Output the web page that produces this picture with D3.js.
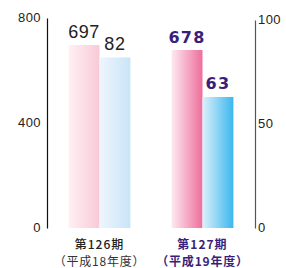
<!DOCTYPE html>
<html><head><meta charset="utf-8">
<script src="https://cdn.jsdelivr.net/npm/d3@7"></script>
<style>body{margin:0;background:#fff}svg{display:block}</style>
</head><body>
<script>
const categories = ["第126期", "第127期"];
const subLabels = ["（平成18年度）", "（平成19年度）"];
const leftValues = [697, 678];   // left axis (pink)
const rightValues = [82, 63];    // right axis (blue)
const leftTicks = [0, 400, 800];
const rightTicks = [0, 50, 100];

const W = 286, H = 268;
const svg = d3.select("body").append("svg").attr("width", W).attr("height", H);
const defs = svg.append("defs");
function grad(id, c0, c1) {
  const g = defs.append("linearGradient").attr("id", id).attr("x1", "0").attr("x2", "1").attr("y1", "0").attr("y2", "0");
  g.append("stop").attr("offset", "0").attr("stop-color", c0);
  g.append("stop").attr("offset", "1").attr("stop-color", c1);
}
grad("p0", "#fff0f4", "#f9c9d7");
grad("b0", "#eef6fd", "#c9e4f8");
grad("p1", "#fde9f0", "#ee6e9b");
grad("b1", "#dcf0fb", "#3bb7ed");

const x = d3.scaleBand().domain(categories).range([48, 254]).paddingInner(0.4).paddingOuter(0.2);
const xs = d3.scaleBand().domain([0, 1]).range([0, x.bandwidth()]);
const yL = d3.scaleLinear().domain([0, 800]).range([228, 18]);
const yR = d3.scaleLinear().domain([0, 100]).range([228, 20]);

const tickFont = t => t.attr("font-family", "Liberation Sans, Arial, sans-serif").attr("font-size", 13)
  .attr("letter-spacing", 0.4).attr("fill", "#222").attr("dy", "0.3em");

const axL = svg.append("g").attr("transform", "translate(47,0)")
  .call(d3.axisLeft(yL).tickValues(leftTicks).tickSize(0).tickPadding(6));
axL.select(".domain").attr("stroke", "#111").attr("stroke-width", 1.2);
axL.selectAll("text").call(tickFont);

const axR = svg.append("g").attr("transform", "translate(255,0)")
  .call(d3.axisRight(yR).tickValues(rightTicks).tickSize(0).tickPadding(3));
axR.select(".domain").attr("stroke", "#555").attr("stroke-width", 1.2);
axR.selectAll("text").call(tickFont);

categories.forEach((c, i) => {
  const g = svg.append("g").attr("transform", `translate(${x(c)},0)`);
  g.append("rect").attr("x", xs(0)).attr("width", xs.bandwidth())
    .attr("y", yL(leftValues[i])).attr("height", yL(0) - yL(leftValues[i]))
    .attr("fill", `url(#p${i})`);
  g.append("rect").attr("x", xs(1)).attr("width", xs.bandwidth())
    .attr("y", yR(rightValues[i])).attr("height", yR(0) - yR(rightValues[i]))
    .attr("fill", `url(#b${i})`);
  const bold = i === 1;
  const vStyle = t => t.attr("text-anchor", "middle")
    .attr("font-family", bold ? "DejaVu Sans, sans-serif" : "Liberation Sans, Arial, sans-serif")
    .attr("font-weight", bold ? "bold" : "normal")
    .attr("font-size", bold ? 16 : 18)
    .attr("letter-spacing", bold ? 1.3 : 0.6)
    .attr("fill", bold ? "#3a1f7a" : "#222");
  g.append("text").attr("x", xs(0) + xs.bandwidth() / 2).attr("y", yL(leftValues[i]) - 7.5)
    .text(leftValues[i]).call(vStyle);
  g.append("text").attr("x", xs(1) + xs.bandwidth() / 2).attr("y", yR(rightValues[i]) - 7.5)
    .text(rightValues[i]).call(vStyle);
  const cx = x.bandwidth() / 2;
  g.append("text").attr("x", cx).attr("y", 248.5).text(c)
    .attr("text-anchor", "middle").attr("font-family", "Noto Sans CJK JP, sans-serif")
    .attr("font-size", 12).attr("font-weight", bold ? "bold" : 500).attr("letter-spacing", 1)
    .attr("fill", bold ? "#3a1f7a" : "#222");
  g.append("text").attr("x", cx).attr("y", 266).text(subLabels[i])
    .attr("text-anchor", "middle").attr("font-family", "Noto Sans CJK JP, sans-serif")
    .attr("font-size", 12).attr("font-weight", bold ? "bold" : "normal").attr("letter-spacing", 0.8)
    .attr("fill", bold ? "#3a1f7a" : "#333");
});
</script>
</body></html>
